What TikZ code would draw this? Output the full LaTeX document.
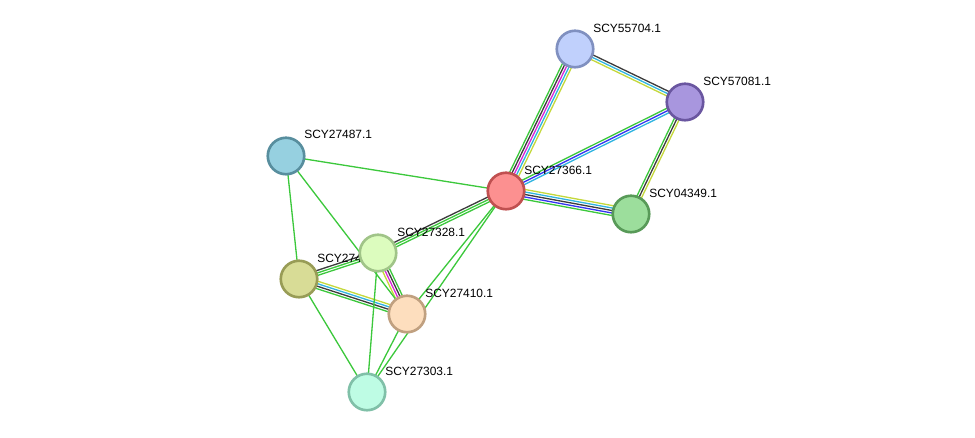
\documentclass[tikz,border=0pt]{standalone}
\usepackage{xcolor}
\usepackage{fontspec}
\setmainfont{Liberation Sans}
\usepackage{tikz}
\usetikzlibrary{calc}
\usetikzlibrary{positioning}
\usetikzlibrary{backgrounds}

\definecolor{lgreen}{HTML}{3CC83C}
\definecolor{lgray}{HTML}{3C3C3C}
\definecolor{lmagenta}{HTML}{D828D8}
\definecolor{lcyan}{HTML}{30B4E0}
\definecolor{lblue}{HTML}{3434F0}
\definecolor{lyellow}{HTML}{C4D83C}

\tikzset{
  prot/.style = {circle, minimum size = 0.73cm, inner sep = 0, line width = 1.5pt},
  plabel/.style = {draw = none, inner sep = 0, anchor = west, font = \fontsize{6.8}{8}\selectfont},
  link/.style = {line width = 0.75pt}
}

% one coloured line per evidence channel, side by side
\newcommand\bundle[3]{%
  \foreach \col [count=\k] in {#3} {\xdef\nlines{\k}}
  \foreach \col [count=\k] in {#3} {
    \pgfmathsetmacro\off{(\k-(\nlines+1)/2)*1.4}
    \draw [link, draw = \col] ($(#1)!\off pt!90:(#2)$) -- ($(#2)!\off pt!-90:(#1)$);
  }}

\begin{document}
\begin{tikzpicture}[x = 0.02cm, y = -0.02cm]
\useasboundingbox (0, 0) rectangle (975, 438);

\node [prot, draw = {rgb,255:red,128;green,144;blue,192}, fill = {rgb,255:red,192;green,208;blue,252}] (P55704) at (575, 49) {};
\node [prot, draw = {rgb,255:red,106;green,86;blue,160}, fill = {rgb,255:red,168;green,150;blue,222}] (P57081) at (685, 102) {};
\node [prot, draw = {rgb,255:red,88;green,142;blue,158}, fill = {rgb,255:red,150;green,208;blue,224}] (P27487) at (286, 156) {};
\node [prot, draw = {rgb,255:red,192;green,80;blue,80}, fill = {rgb,255:red,252;green,144;blue,144}] (P27366) at (506, 191) {};
\node [prot, draw = {rgb,255:red,88;green,154;blue,88}, fill = {rgb,255:red,156;green,222;blue,156}] (P04349) at (631, 214) {};
\node [prot, draw = {rgb,255:red,152;green,156;blue,86}, fill = {rgb,255:red,216;green,220;blue,150}] (P274) at (299, 279) {};
\node [prot, draw = {rgb,255:red,192;green,160;blue,128}, fill = {rgb,255:red,253;green,222;blue,190}] (P27410) at (407, 314) {};
\node [prot, draw = {rgb,255:red,128;green,192;blue,168}, fill = {rgb,255:red,190;green,252;blue,228}] (P27303) at (367, 392) {};

% labels sit under the nodes drawn after them
\node [plabel] (L274) at (317, 258) {SCY274};
\node [prot, draw = {rgb,255:red,160;green,196;blue,136}, fill = {rgb,255:red,220;green,252;blue,190}] (P27328) at (378, 253) {};

\node [plabel] (L55704) at (593, 28) {SCY55704.1};
\node [plabel] (L57081) at (703, 81) {SCY57081.1};
\node [plabel] (L27487) at (304, 134) {SCY27487.1};
\node [plabel] (L27366) at (524, 170) {SCY27366.1};
\node [plabel] (L04349) at (649, 193) {SCY04349.1};
\node [plabel] (L27328) at (397, 232) {SCY27328.1};
\node [plabel] (L27410) at (425, 293) {SCY27410.1};
\node [plabel] (L27303) at (385, 371) {SCY27303.1};

\begin{scope}[on background layer]
\bundle{P55704}{P27366}{lgreen, lgray, lmagenta, lcyan, lyellow}
\bundle{P55704}{P57081}{lyellow, lcyan, lgray}
\bundle{P27366}{P57081}{lcyan, lblue, lgreen}
\bundle{P57081}{P04349}{lgreen, lgray, lyellow}
\bundle{P27366}{P04349}{lgreen, lblue, lgray, lcyan, lyellow}
\bundle{P27366}{P27328}{lgray, lgreen, lgreen}
\bundle{P274}{P27328}{lgreen, lgreen, lgray}
\bundle{P274}{P27410}{lgreen, lgray, lcyan, lyellow}
\bundle{P27328}{P27410}{lyellow, lmagenta, lgray, lgreen}
\bundle{P27487}{P27366}{lgreen}
\bundle{P27487}{P274}{lgreen}
\bundle{P27487}{P27410}{lgreen}
\bundle{P27366}{P27410}{lgreen}
\bundle{P27366}{P27303}{lgreen}
\bundle{P274}{P27303}{lgreen}
\bundle{P27328}{P27303}{lgreen}
\bundle{P27410}{P27303}{lgreen}
\end{scope}
\end{tikzpicture}
\end{document}
